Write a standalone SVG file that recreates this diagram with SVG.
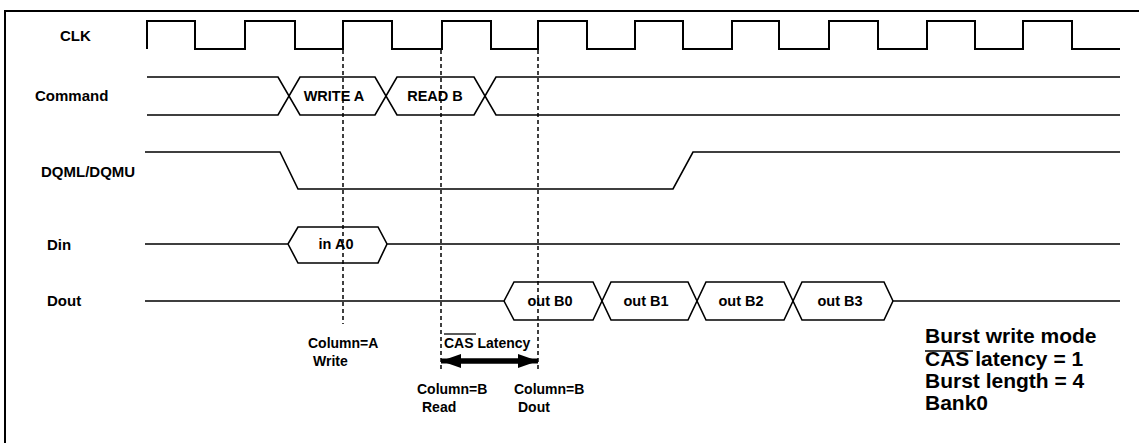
<svg xmlns="http://www.w3.org/2000/svg" width="1139" height="443" viewBox="0 0 1139 443">
<defs>
<style>
.t{font-family:"Liberation Sans",Arial,sans-serif;font-weight:bold;fill:#000}
.lbl{font-size:15px}
.hx{font-size:14.5px;text-anchor:middle}
.ann{font-size:14px}
.note{font-size:21px}
.w{fill:none;stroke:#000;stroke-width:1.6;stroke-linejoin:miter}
.clk{fill:none;stroke:#000;stroke-width:2}
.dash{stroke:#000;stroke-width:1.5;stroke-dasharray:4 3;fill:none}
.ov{stroke:#000;stroke-width:1.3}
</style>
<marker id="ah" viewBox="0 0 20 14" refX="20" refY="7" markerWidth="20" markerHeight="14" markerUnits="userSpaceOnUse" orient="auto-start-reverse">
<path d="M0,0 L20,7 L0,14 Z" fill="#000"/>
</marker>
</defs>
<rect width="1139" height="443" fill="#fff"/>
<g id="frame">
<path d="M5,443 V11 H1139" fill="none" stroke="#000" stroke-width="2"/>
</g>
<g id="clk">
<text class="t lbl" x="60" y="41">CLK</text>
<path class="clk" d="M147,49 V21 H195 V49 H245 V21 H295 V49 H343 V21 H392 V49 H442 V21 H491 V49 H538 V21 H587 V49 H635 V21 H683 V49 H732 V21 H779 V49 H829 V21 H878 V49 H927 V21 H975 V49 H1023 V21 H1072 V49 H1120"/>
</g>
<g id="command">
<text class="t lbl" x="35" y="101">Command</text>
<path class="w" d="M147,77 H278 L300,115 H375 L397,77 H474 L496,115 H1120"/>
<path class="w" d="M147,115 H278 L300,77 H375 L397,115 H474 L496,77 H1120"/>
<text class="t hx" x="334" y="101">WRITE A</text>
<text class="t hx" x="435" y="101">READ B</text>
</g>
<g id="dqm">
<text class="t lbl" x="41" y="177">DQML/DQMU</text>
<path class="w" d="M145,152 H280 L298,189 H673 L693,152 H1120"/>
</g>
<g id="din">
<text class="t lbl" x="47" y="250">Din</text>
<path class="w" d="M145,244 H288 L298,227 H378 L387,244 L378,263 H298 L288,244 M387,244 H1120"/>
<text class="t hx" x="336" y="249">in A0</text>
</g>
<g id="dout">
<text class="t lbl" x="47" y="306">Dout</text>
<path class="w" d="M145,301 H504 L514,282 H593 L611,320 H688 L706,282 H784 L802,320 H884 L893,301 H1120"/>
<path class="w" d="M504,301 L514,320 H593 L611,282 H688 L706,320 H784 L802,282 H884 L893,301"/>
<text class="t hx" x="550" y="306">out B0</text>
<text class="t hx" x="646" y="306">out B1</text>
<text class="t hx" x="741" y="306">out B2</text>
<text class="t hx" x="840" y="306">out B3</text>
</g>
<g id="connectors">
<line class="dash" x1="343" y1="50" x2="343" y2="324"/>
<line class="dash" x1="441" y1="50" x2="441" y2="370"/>
<line class="dash" x1="538" y1="50" x2="538" y2="370"/>
<line x1="450" y1="361" x2="529" y2="361" stroke="#000" stroke-width="5"/>
<line x1="441" y1="361" x2="538" y2="361" stroke="#000" stroke-width="5" marker-start="url(#ah)" marker-end="url(#ah)"/>
</g>
<g id="annotations">
<text class="t ann" x="308" y="348">Column=A</text>
<text class="t ann" x="313" y="366">Write</text>
<text class="t ann" x="444" y="348">CAS Latency</text>
<line class="ov" x1="444" y1="334" x2="476" y2="334"/>
<text class="t ann" x="417" y="394">Column=B</text>
<text class="t ann" x="422" y="412">Read</text>
<text class="t ann" x="514" y="394">Column=B</text>
<text class="t ann" x="518" y="412">Dout</text>
</g>
<g id="notes">
<text class="t note" x="925" y="343">Burst write mode</text>
<text class="t note" x="925" y="366">CAS latency = 1</text>
<line class="ov" x1="925" y1="351" x2="973" y2="351" stroke-width="1.6"/>
<text class="t note" x="925" y="388">Burst length = 4</text>
<text class="t note" x="925" y="410">Bank0</text>
</g>
</svg>
